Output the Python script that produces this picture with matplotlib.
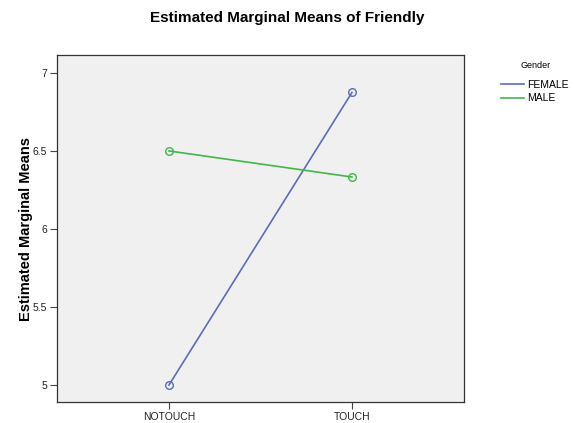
import matplotlib.pyplot as plt
from matplotlib.lines import Line2D

# data
categories = ['NOTOUCH', 'TOUCH']
female = [5.0, 6.875]
male = [6.5, 6.333]
yticks = [5, 5.5, 6, 6.5, 7]
ytick_labels = ['5', '5.5', '6', '6.5', '7']

plt.rcParams['font.family'] = ['Liberation Sans', 'DejaVu Sans']

blue = '#5a6db5'
green = '#42b649'

fig = plt.figure(figsize=(5.74, 4.23), dpi=100)
ax = fig.add_axes([0.0993, 0.0496, 0.7090, 0.8204])
ax.set_facecolor('#f0f0f0')

x = list(range(len(categories)))
ax.plot(x, female, color=blue, lw=1.2, marker='o', ms=5.5,
        mfc='none', mec=blue, mew=1.0)
ax.plot(x, male, color=green, lw=1.2, marker='o', ms=5.5,
        mfc='none', mec=green, mew=1.0)

ax.set_xlim(-0.612, 1.612)
ax.set_ylim(4.891, 7.115)
ax.set_xticks(x)
ax.set_xticklabels(categories, fontsize=7.5)
ax.set_yticks(yticks)
ax.set_yticklabels(ytick_labels, fontsize=7.5)
ax.tick_params(length=5, width=0.8, color='#444444', pad=2, labelcolor='#222222')

for s in ax.spines.values():
    s.set_color('#333333')
    s.set_linewidth(0.9)

ax.set_ylabel('Estimated Marginal Means', fontsize=10.5, fontweight='bold', labelpad=0)
fig.suptitle('Estimated Marginal Means of Friendly', fontsize=11, fontweight='bold',
             x=0.5, y=0.975)

handles = [Line2D([], [], color=blue, lw=1.2), Line2D([], [], color=green, lw=1.2)]
leg = fig.legend(handles, ['FEMALE', 'MALE'], loc='upper left',
                 bbox_to_anchor=(0.857, 0.878), frameon=False,
                 title='Gender', fontsize=7.5, handlelength=2.2, handletextpad=0.3,
                 labelspacing=0.35, alignment='center')
leg.get_title().set_fontsize(6.5)
leg._legend_box.sep = 7

fig.savefig('out.png', dpi=100)
